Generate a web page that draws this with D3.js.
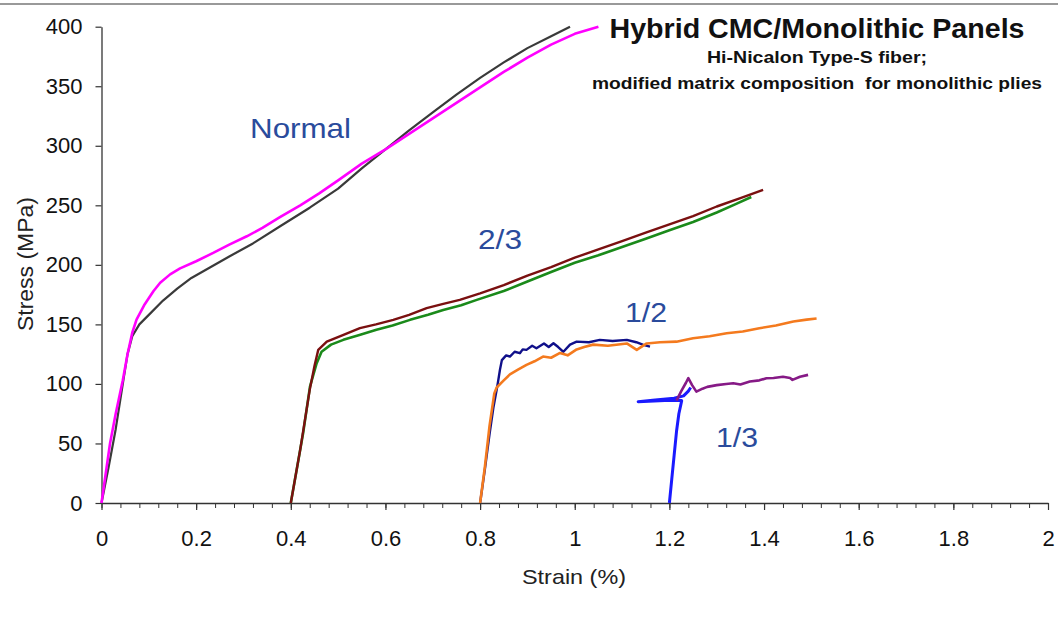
<!DOCTYPE html>
<html>
<head>
<meta charset="utf-8">
<script src="https://cdn.jsdelivr.net/npm/d3@7"></script>
<style>
  body { margin: 0; background: #fff; }
  text { font-family: "Liberation Sans", Arial, sans-serif; }
</style>
</head>
<body>
<svg id="chart" width="1058" height="617"></svg>
<script>
// strain (%), stress (MPa) pairs
let normalBlack = [[0,0],[0.015,30],[0.03,62],[0.045,100],[0.055,125],[0.065,140],[0.08,150],[0.1,158],[0.13,170],[0.16,180],[0.19,189],[0.23,198],[0.27,207],[0.32,218],[0.38,233],[0.44,248],[0.5,264],[0.55,281],[0.6,297],[0.65,313],[0.7,328],[0.75,343],[0.8,357],[0.85,370],[0.9,382],[0.95,392],[0.99,400]];
let normalMagenta = [[0,0],[0.018,50],[0.03,75],[0.045,103],[0.055,125],[0.065,143],[0.074,154],[0.09,166],[0.11,178],[0.124,185],[0.145,192],[0.166,197],[0.2,203],[0.236,210],[0.27,217],[0.307,224],[0.34,231],[0.377,240],[0.42,250],[0.46,260],[0.5,271],[0.55,285],[0.6,297],[0.65,310],[0.7,323],[0.75,336],[0.8,349],[0.85,362],[0.9,374],[0.95,385],[1.0,394],[1.05,400]];
let twoThirdRed = [[0.4,0],[0.42,45],[0.44,95],[0.45,115],[0.458,128.6],[0.476,135.5],[0.51,141],[0.546,146.8],[0.58,150],[0.6165,153.8],[0.65,158],[0.687,163.6],[0.72,167],[0.757,170.6],[0.8,176],[0.85,183],[0.9,191],[0.95,198],[1.0,206],[1.05,213],[1.1,220],[1.15,227],[1.2,234],[1.25,241],[1.3,249],[1.35,256],[1.398,263]];
let twoThirdGreen = [[0.4,0],[0.426,58.5],[0.4405,97.7],[0.4547,117.4],[0.465,127],[0.485,133],[0.511,137],[0.545,141],[0.581,145.4],[0.615,149],[0.652,153.8],[0.69,158],[0.722,162],[0.76,166],[0.793,170.6],[0.85,178],[0.9,186],[0.95,194],[1.0,201.7],[1.05,208],[1.1,215],[1.15,222],[1.2,229],[1.25,236],[1.3,244],[1.34,251],[1.373,257]];
let halfOrange = [[0.8,0],[0.81,30],[0.82,65],[0.83,92],[0.835,97],[0.85,103],[0.863,108],[0.88,112],[0.898,116],[0.915,119],[0.933,123],[0.95,122],[0.969,126],[0.985,124],[1.004,129],[1.02,131],[1.039,133],[1.07,132],[1.11,134],[1.131,128.6],[1.152,134],[1.18,135],[1.215,135.5],[1.25,138.4],[1.285,140],[1.321,142.6],[1.355,144],[1.39,146.8],[1.425,149],[1.462,152.4],[1.49,154],[1.511,155]];
let halfNavy = [[0.8,0],[0.81,28],[0.82,58],[0.828,80],[0.831,86.5],[0.835,95],[0.838,102],[0.842,112],[0.846,120],[0.855,124],[0.863,123],[0.873,127],[0.884,125.8],[0.89,129],[0.898,128.6],[0.91,132],[0.919,130],[0.935,134],[0.945,131],[0.955,134.2],[0.965,131],[0.976,127],[0.99,133],[1.004,135.5],[1.03,135],[1.053,137],[1.08,136],[1.11,137],[1.13,135],[1.145,132.8],[1.159,131.3]];
let thirdBlue = [[1.2,0],[1.205,20],[1.21,40],[1.215,60],[1.22,75],[1.226,86],[1.19,86],[1.134,85],[1.17,86.5],[1.21,88],[1.23,90],[1.24,94],[1.245,97]];
let thirdPurple = [[1.215,86],[1.225,94],[1.235,101],[1.24,104.8],[1.248,99],[1.257,93.5],[1.27,96],[1.28,97.5],[1.3,99],[1.32,100],[1.335,100.6],[1.35,99.5],[1.37,102],[1.39,103],[1.405,104.8],[1.42,105],[1.44,106],[1.455,105],[1.46,103.4],[1.476,106],[1.493,107.6]];

let xTicks = [0, 0.2, 0.4, 0.6, 0.8, 1, 1.2, 1.4, 1.6, 1.8, 2];
let yTicks = [0, 50, 100, 150, 200, 250, 300, 350, 400];

let series = [
    { data: normalBlack, color: '#3a3a3a', w: 2.2 },
    { data: normalMagenta, color: '#ff00ff', w: 2.6 },
    { data: twoThirdGreen, color: '#1a8a1a', w: 2.6 },
    { data: twoThirdRed, color: '#7a1010', w: 2.4 },
    { data: halfNavy, color: '#10108a', w: 2.4 },
    { data: halfOrange, color: '#f47a1e', w: 2.6 },
    { data: thirdBlue, color: '#1a1aff', w: 3 },
    { data: thirdPurple, color: '#861a86', w: 2.6 }
];

let labels = [
    { text: 'Normal', x: 250, y: 138, len: 101 },
    { text: '2/3', x: 478, y: 249, len: 44 },
    { text: '1/2', x: 625, y: 322, len: 42 },
    { text: '1/3', x: 716, y: 447, len: 42 }
];

let svg = d3.select('#chart');

let x = d3.scaleLinear().domain([0, 2]).range([101.5, 1048]);
let y = d3.scaleLinear().domain([0, 400]).range([503, 26.7]);

// top rule
svg.append('line')
    .attr('x1', 0).attr('x2', 1058).attr('y1', 4).attr('y2', 4)
    .style('stroke', '#777').style('stroke-width', 1.5);

// minor x ticks
let minor = d3.range(0, 2.0001, 0.04);
svg.append('g')
    .attr('transform', `translate(0, ${y(0)})`)
    .call(d3.axisBottom(x).tickValues(minor).tickSize(5).tickFormat(''))
    .call(g => g.select('.domain').remove())
    .call(g => g.selectAll('line').style('stroke', '#333'));

let xAxis = svg.append('g')
    .attr('transform', `translate(0, ${y(0)})`)
    .call(d3.axisBottom(x).tickValues(xTicks).tickSize(7).tickSizeOuter(0).tickPadding(20)
        .tickFormat(d3.format('~g')));

let yAxis = svg.append('g')
    .attr('transform', `translate(${x(0)}, 0)`)
    .call(d3.axisLeft(y).tickValues(yTicks).tickSize(6).tickSizeOuter(0).tickPadding(13));

[xAxis, yAxis].forEach(g => {
    g.select('.domain').style('stroke', '#333').style('stroke-width', 1.3);
    g.selectAll('.tick line').style('stroke', '#333').style('stroke-width', 1.2);
    g.selectAll('.tick text')
        .style('font-family', '"Liberation Sans", Arial, sans-serif')
        .style('font-size', '22px')
        .style('fill', '#111');
});

// axis titles
svg.append('text')
    .attr('x', 574).attr('y', 584)
    .attr('text-anchor', 'middle')
    .attr('textLength', 104)
    .attr('lengthAdjust', 'spacingAndGlyphs')
    .style('font-size', '21px').style('fill', '#222')
    .text('Strain (%)');

svg.append('text')
    .attr('transform', 'translate(33, 264) rotate(-90)')
    .attr('text-anchor', 'middle')
    .attr('textLength', 134)
    .attr('lengthAdjust', 'spacingAndGlyphs')
    .style('font-size', '22px').style('fill', '#222')
    .text('Stress (MPa)');

// curves
let line = d3.line().x(d => x(d[0])).y(d => y(d[1]));

svg.append('g').selectAll('path')
    .data(series)
    .enter().append('path')
    .attr('d', d => line(d.data))
    .style('fill', 'none')
    .style('stroke', d => d.color)
    .style('stroke-width', d => d.w)
    .style('stroke-linejoin', 'round');

// group labels
svg.append('g').selectAll('text')
    .data(labels)
    .enter().append('text')
    .attr('x', d => d.x).attr('y', d => d.y)
    .attr('textLength', d => d.len)
    .attr('lengthAdjust', 'spacingAndGlyphs')
    .style('font-size', '28px')
    .style('fill', '#2a4b9c')
    .text(d => d.text);

// title block
let titles = [
    { text: 'Hybrid CMC/Monolithic Panels', y: 38, size: 28, len: 415 },
    { text: 'Hi-Nicalon Type-S fiber;', y: 63, size: 16, len: 220 },
    { text: 'modified matrix composition\u00a0\u00a0for monolithic plies', y: 89, size: 16, len: 450 }
];

svg.append('g').selectAll('text')
    .data(titles)
    .enter().append('text')
    .attr('x', 817).attr('y', d => d.y)
    .attr('text-anchor', 'middle')
    .attr('textLength', d => d.len)
    .attr('lengthAdjust', 'spacingAndGlyphs')
    .style('font-weight', 'bold')
    .style('font-size', d => d.size + 'px')
    .style('fill', '#111')
    .text(d => d.text);
</script>
</body>
</html>
